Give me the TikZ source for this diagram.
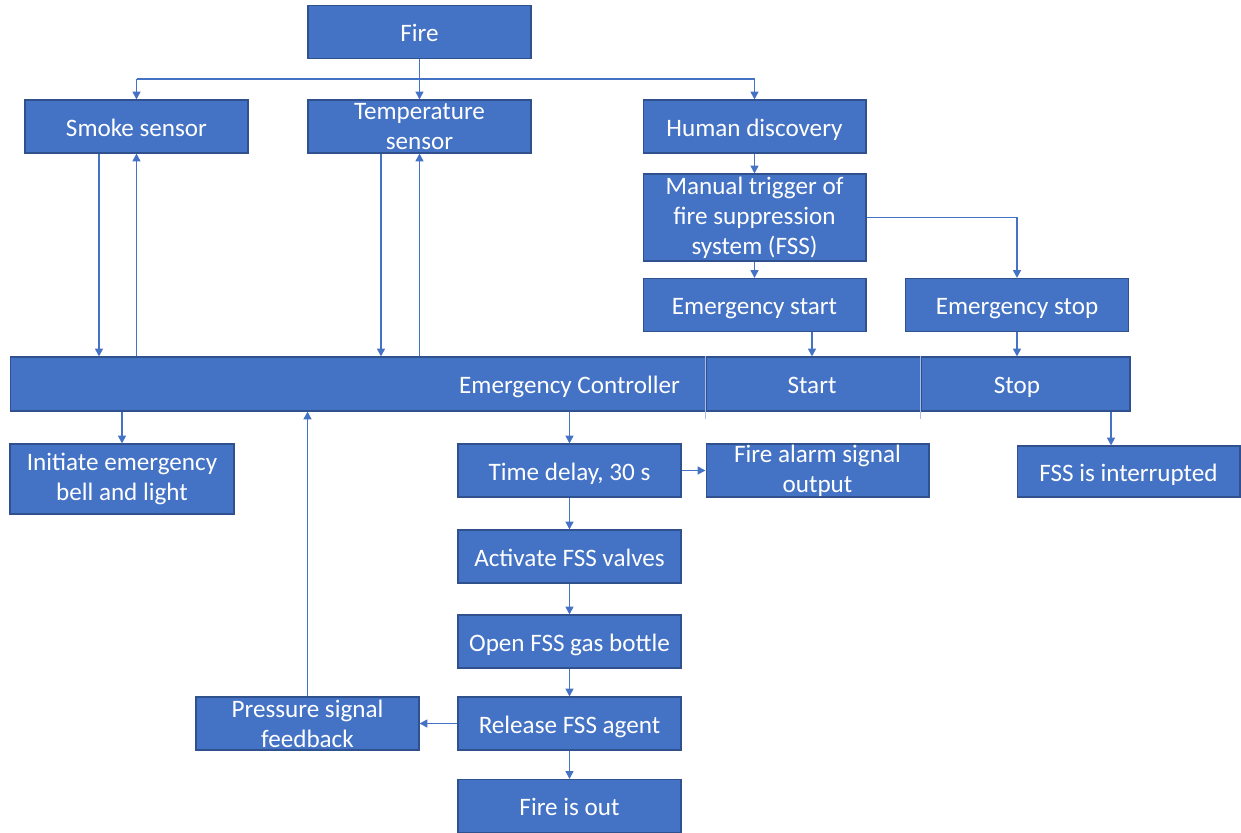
\documentclass[tikz,border=0pt]{standalone}
\usepackage{fontspec}
\setmainfont{Carlito}
\usetikzlibrary{arrows.meta,calc}
\definecolor{boxblue}{HTML}{4472C4}
\definecolor{boxedge}{HTML}{2F528F}
\definecolor{sepline}{HTML}{A9BCE6}
\begin{document}
\begin{tikzpicture}[x=0.02cm,y=-0.02cm,
 box/.style={draw=boxedge, line width=0.6pt, fill=boxblue, text=white,
   font=\fontsize{14.3}{17}\selectfont, align=center, inner sep=0pt,
   minimum width=4.46cm, minimum height=1.06cm},
 one/.style={box, text height=14pt, text depth=3pt},
 lbl/.style={text=white, font=\fontsize{14.3}{17}\selectfont, inner sep=0pt,
   text height=14pt, text depth=3pt},
 arr/.style={draw=boxblue, line width=1pt, -{Triangle[length=4.5pt,width=4.5pt]}},
 ln/.style={draw=boxblue, line width=1pt},
 sep/.style={draw=sepline, line width=0.7pt}]
\useasboundingbox (0,0) rectangle (1241,832);

% boxes
\node[one] (fire) at (419.5,32) {Fire};
\node[one] (smoke) at (136.5,126.5) {Smoke sensor};
\node[box] (temp) at (419.5,126.5) {Temperature\\sensor};
\node[one] (human) at (754.5,126.5) {Human discovery};
\node[box, minimum height=1.74cm] (manual) at (754.5,217.5) {Manual trigger of\\fire suppression\\system (FSS)};
\node[one] (estart) at (754.5,305) {Emergency start};
\node[one] (estop) at (1017,305) {Emergency stop};

\node[box, minimum width=13.92cm, minimum height=1.08cm] (ctrl) at (358,384) {};
\node[box, minimum width=4.3cm, minimum height=1.08cm] (start) at (813.5,384) {};
\node[box, minimum width=4.18cm, minimum height=1.08cm] (stop) at (1025.5,384) {};
\node[lbl] (ctrltext) at (569.5,384) {Emergency Controller};
\node[lbl] (starttext) at (812,384) {Start};
\node[lbl] (stoptext) at (1017,384) {Stop};
\draw[sep] (start.north west) -- ($(start.south west)+(0,7)$);
\draw[sep] (stop.north west) -- ($(stop.south west)+(0,7)$);

\node[box, minimum width=4.48cm, minimum height=1.4cm] (bell) at (122,479) {Initiate emergency\\bell and light};
\node[one] (delay) at (569.5,470.5) {Time delay, 30 s};
\node[box] (alarm) at (817.5,470.5) {Fire alarm signal\\output};
\node[one, minimum height=1.02cm] (interrupt) at (1128.5,471.5) {FSS is interrupted};
\node[one] (valves) at (569.5,556.5) {Activate FSS valves};
\node[one] (bottle) at (569.5,641.5) {Open FSS gas bottle};
\node[one] (release) at (569.5,723.5) {Release FSS agent};
\node[box] (pressure) at (307.5,723.5) {Pressure signal\\feedback};
\node[one] (out) at (569.5,806) {Fire is out};

% helper coordinates
\coordinate (bus) at (0,79);
\coordinate (xsd) at (99,0);
\coordinate (xtd) at (381,0);
\coordinate (xint) at (1111,0);

% connectors
\draw[ln] (fire.south) -- (fire.south |- bus);
\draw[ln] (smoke.north |- bus) -- (human.north |- bus);
\draw[arr] (smoke.north |- bus) -- (smoke.north);
\draw[arr] (fire.south |- bus) -- (temp.north);
\draw[arr] (human.north |- bus) -- (human.north);

\draw[arr] (smoke.south -| xsd) -- (ctrl.north -| xsd);
\draw[arr] (ctrl.north -| smoke.south) -- (smoke.south);
\draw[arr] (temp.south -| xtd) -- (ctrl.north -| xtd);
\draw[arr] (ctrl.north -| temp.south) -- (temp.south);

\draw[arr] (human.south) -- (manual.north);
\draw[arr] (manual.south) -- (estart.north);
\draw[arr] (manual.east) -- (manual.east -| estop.north) -- (estop.north);
\draw[arr] (estart.south -| starttext) -- (start.north -| starttext);
\draw[arr] (estop.south) -- (stop.north -| estop.south);
\draw[arr] (stop.south -| xint) -- (interrupt.north -| xint);

\draw[arr] (ctrl.south -| bell.north) -- (bell.north);
\draw[arr] (ctrl.south -| delay.north) -- (delay.north);
\draw[arr] (delay.east) -- (alarm.west);
\draw[arr] (delay.south) -- (valves.north);
\draw[arr] (valves.south) -- (bottle.north);
\draw[arr] (bottle.south) -- (release.north);
\draw[arr] (release.south) -- (out.north);
\draw[arr] (release.west) -- (pressure.east);
\draw[arr] (pressure.north) -- (ctrl.south -| pressure.north);
\end{tikzpicture}
\end{document}
